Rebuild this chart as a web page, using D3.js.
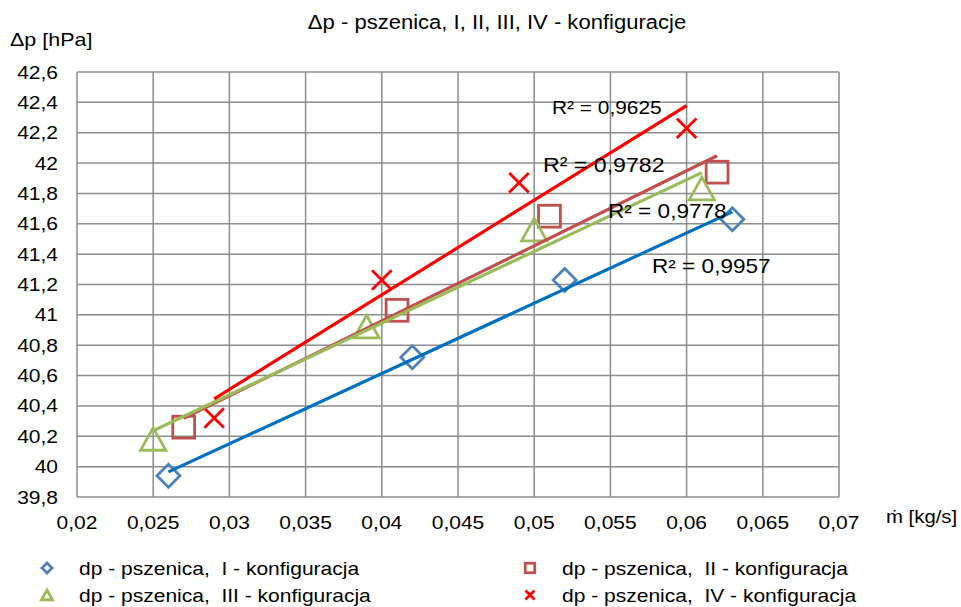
<!DOCTYPE html>
<html><head><meta charset="utf-8">
<script src="https://cdn.jsdelivr.net/npm/d3@7"></script>
<style>body{margin:0;background:#fff}svg{display:block;font-family:"Liberation Sans",Arial,sans-serif}</style>
</head><body><svg id="c" width="961" height="607"></svg>
<script>
const xTicks=[0.02,0.025,0.03,0.035,0.04,0.045,0.05,0.055,0.06,0.065,0.07];
const yTicks=[39.8,40,40.2,40.4,40.6,40.8,41,41.2,41.4,41.6,41.8,42,42.2,42.4,42.6];
const xI=[0.026,0.042,0.052,0.063], yI=[39.94,40.72,41.23,41.63];
const xII=[0.027,0.041,0.051,0.062], yII=[40.26,41.03,41.65,41.94];
const xIII=[0.025,0.039,0.050,0.061], yIII=[40.18,40.92,41.56,41.83];
const xIV=[0.029,0.040,0.049,0.060], yIV=[40.32,41.23,41.87,42.23];
const names=["dp - pszenica,  I - konfiguracja","dp - pszenica,  II - konfiguracja","dp - pszenica,  III - konfiguracja","dp - pszenica,  IV - konfiguracja"];
const r2=["R² = 0,9957","R² = 0,9782","R² = 0,9778","R² = 0,9625"];

const SX=1.13;
const svg=d3.select("#c");
const L=77,R=839,T=72,B=497;
const x=d3.scaleLinear().domain([0.02,0.07]).range([L,R]);
const y=d3.scaleLinear().domain([39.8,42.6]).range([B,T]);
const fmt=v=>String(+v.toFixed(3)).replace(".",",");
const grid="#8c8c8c";
function txt(px,py,size,str,anchor){
  return svg.append("text").attr("transform",`translate(${px},${py}) scale(${SX},1)`)
   .attr("font-size",size).attr("fill","#000").attr("text-anchor",anchor||"start")
   .attr("xml:space","preserve").style("white-space","pre").text(str);
}
svg.append("g").selectAll("line").data(xTicks).join("line").attr("x1",d=>x(d)).attr("x2",d=>x(d)).attr("y1",T).attr("y2",B).attr("stroke",grid).attr("stroke-width",1.5);
svg.append("g").selectAll("line").data(yTicks).join("line").attr("y1",d=>y(d)).attr("y2",d=>y(d)).attr("x1",L).attr("x2",R).attr("stroke",grid).attr("stroke-width",1.5);
xTicks.forEach(d=>txt(x(d),529,18.6,fmt(d),"middle"));
yTicks.forEach(d=>txt(58,y(d)+6.5,18.6,fmt(d),"end"));

const series=[
 {xs:xI,ys:yI,mk:"#4f81bd",ln:"#0070c0",shape:"diamond"},
 {xs:xII,ys:yII,mk:"#c0504d",ln:"#c0504d",shape:"square"},
 {xs:xIII,ys:yIII,mk:"#9bbb59",ln:"#9bbb59",shape:"triangle"},
 {xs:xIV,ys:yIV,mk:"#ff0000",ln:"#ff0000",shape:"x"}
];
function fit(xs,ys){const n=xs.length,mx=d3.mean(xs),my=d3.mean(ys);let sxy=0,sxx=0;for(let i=0;i<n;i++){sxy+=(xs[i]-mx)*(ys[i]-my);sxx+=(xs[i]-mx)**2;}const b=sxy/sxx;return{b,a:my-b*mx};}
function marker(g,shape,cx,cy,col,s,w){
 w=w||2.8;
 if(shape==="diamond")g.append("path").attr("d",`M${cx},${cy-s}L${cx+s},${cy}L${cx},${cy+s}L${cx-s},${cy}Z`).attr("fill","none").attr("stroke",col).attr("stroke-width",w);
 else if(shape==="square")g.append("rect").attr("x",cx-s*0.95).attr("y",cy-s*0.95).attr("width",s*1.9).attr("height",s*1.9).attr("fill","none").attr("stroke",col).attr("stroke-width",w);
 else if(shape==="triangle")g.append("path").attr("d",`M${cx},${cy-s}L${cx+s*1.1},${cy+s*0.95}L${cx-s*1.1},${cy+s*0.95}Z`).attr("fill","none").attr("stroke",col).attr("stroke-width",w);
 else g.append("path").attr("d",`M${cx-s*0.85},${cy-s*0.85}L${cx+s*0.85},${cy+s*0.85}M${cx+s*0.85},${cy-s*0.85}L${cx-s*0.85},${cy+s*0.85}`).attr("stroke",col).attr("stroke-width",w);
}
const mg=svg.append("g");
series.forEach(s=>{s.xs.forEach((v,i)=>marker(mg,s.shape,x(v),y(s.ys[i]),s.mk,11.5));});
const lg=svg.append("g");
series.forEach(s=>{const f=fit(s.xs,s.ys);const x0=d3.min(s.xs),x1=d3.max(s.xs);
 lg.append("line").attr("x1",x(x0)).attr("y1",y(f.a+f.b*x0)).attr("x2",x(x1)).attr("y2",y(f.a+f.b*x1)).attr("stroke",s.ln).attr("stroke-width",3.2);});

const r2pos=[[652,273,20],[543,172,20.5],[608,218,20],[552,114,18.5]];
r2pos.forEach((p,i)=>txt(p[0],p[1],p[2],r2[i]));

txt(497,29,19.5,"Δp - pszenica, I, II, III, IV - konfiguracje","middle");
txt(10,46,19,"Δp [hPa]");
txt(886,523,18,"ṁ [kg/s]");

const legPos=[[47,568],[530,568],[47,595],[530,595]];
series.forEach((s,i)=>{const [lx,ly]=legPos[i];
 const g=svg.append("g");
 if(s.shape==="x"){g.append("path").attr("d",`M${lx-4.5},${ly-4.5}L${lx+4.5},${ly+4.5}M${lx+4.5},${ly-4.5}L${lx-4.5},${ly+4.5}`).attr("stroke",s.mk).attr("stroke-width",2.8);}
 else marker(g,s.shape,lx,ly,s.mk,5,2.8);
 txt(lx+32,ly+6.5,18.6,names[i]);
});
</script></body></html>
